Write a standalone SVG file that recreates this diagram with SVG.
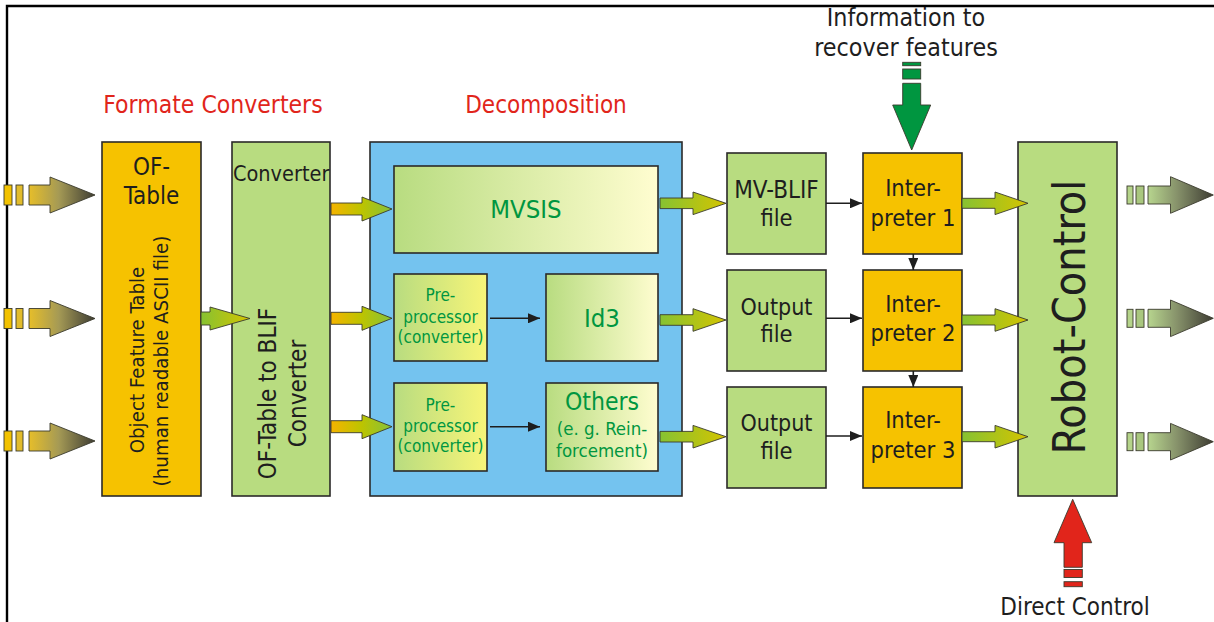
<svg xmlns="http://www.w3.org/2000/svg" width="1214" height="622" viewBox="0 0 1214 622">
  <style>
    text { font-family: "DejaVu Sans Condensed", "DejaVu Sans", sans-serif; }
    .box { stroke: #2b2a29; stroke-width: 1.6; }
    .orange { fill: #F6C200; }
    .green { fill: #B8DC80; }
    .blue { fill: #74C3EF; }
    .gtxt { fill: #009640; }
    .rtxt { fill: #E1251B; }
    .ktxt { fill: #1e1e1e; }
    .ctr { text-anchor: middle; }
    .barrow { stroke: #3a3a2c; stroke-width: 0.9; }
    .link { stroke: #1e1e1e; stroke-width: 1.6; fill: none; marker-end: url(#tip); }
  </style>
  <defs>
    <linearGradient id="gInput" x1="0" y1="0" x2="1" y2="0">
      <stop offset="0" stop-color="#E6BE2A"/>
      <stop offset="0.45" stop-color="#A59A55"/>
      <stop offset="1" stop-color="#3E3D33"/>
    </linearGradient>
    <linearGradient id="gOutput" x1="0" y1="0" x2="1" y2="0">
      <stop offset="0" stop-color="#B7D58E"/>
      <stop offset="0.45" stop-color="#86916A"/>
      <stop offset="1" stop-color="#3E3D33"/>
    </linearGradient>
    <linearGradient id="gOrangeGreen" x1="0" y1="0" x2="1" y2="0">
      <stop offset="0" stop-color="#F5B400"/>
      <stop offset="0.5" stop-color="#BDC400"/>
      <stop offset="1" stop-color="#86C13A"/>
    </linearGradient>
    <linearGradient id="gGreenYellow" x1="0" y1="0" x2="1" y2="0">
      <stop offset="0" stop-color="#86C232"/>
      <stop offset="1" stop-color="#D4C400"/>
    </linearGradient>
    <linearGradient id="gPale" x1="0" y1="0" x2="1" y2="0">
      <stop offset="0" stop-color="#B8DC80"/>
      <stop offset="1" stop-color="#FFFDD0"/>
    </linearGradient>
    <linearGradient id="gYellow" x1="0" y1="0" x2="1" y2="0">
      <stop offset="0" stop-color="#B8DC80"/>
      <stop offset="1" stop-color="#F8F578"/>
    </linearGradient>
    <marker id="tip" viewBox="0 0 12 10" refX="12" refY="5" markerWidth="12" markerHeight="10" markerUnits="userSpaceOnUse" orient="auto">
      <path d="M0,0 L12,5 L0,10 Z" fill="#1e1e1e"/>
    </marker>
  </defs>

  <!-- frame lines -->
  <path d="M7,622 V6 H1214" fill="none" stroke="#000" stroke-width="2.4"/>

  <!-- section captions -->
  <text x="213" y="113" font-size="24.5" class="ctr rtxt">Formate Converters</text>
  <text x="546" y="113" font-size="24" class="ctr rtxt">Decomposition</text>
  <text x="906" y="26" font-size="24.8" class="ctr ktxt">Information to</text>
  <text x="906" y="56" font-size="24.8" class="ctr ktxt">recover features</text>
  <text x="1075" y="615" font-size="24" class="ctr ktxt">Direct Control</text>

  <!-- nodes -->
  <g id="of-table">
    <rect x="102" y="142" width="99" height="354" class="box orange"/>
    <text x="151.5" y="175" font-size="24" class="ctr ktxt">OF-</text>
    <text x="151.5" y="204" font-size="24" class="ctr ktxt">Table</text>
    <text transform="translate(144,360) rotate(-90)" font-size="20.3" class="ctr ktxt">Object Feature Table</text>
    <text transform="translate(168,361) rotate(-90)" font-size="20.3" class="ctr ktxt">(human readable ASCII file)</text>
  </g>

  <g id="blif-converter">
    <rect x="232" y="142" width="98" height="354" class="box green"/>
    <text x="233" y="181" font-size="21.5" class="ktxt">Converter</text>
    <text transform="translate(276,393.5) rotate(-90)" font-size="24" class="ctr ktxt">OF-Table to BLIF</text>
    <text transform="translate(306,393.5) rotate(-90)" font-size="24" class="ctr ktxt">Converter</text>
  </g>

  <g id="decomposition">
    <rect x="370" y="142" width="312" height="354" class="box blue"/>
  </g>

  <g id="mvsis">
    <rect x="394" y="166" width="264" height="87" class="box" fill="url(#gPale)"/>
    <text x="526" y="218" font-size="25.5" class="ctr gtxt">MVSIS</text>
  </g>

  <g id="preprocessor-1">
    <rect x="394" y="274" width="93" height="87" class="box" fill="url(#gYellow)"/>
    <text x="440.5" y="301" font-size="17" class="ctr gtxt">Pre-</text>
    <text x="440.5" y="323" font-size="17" class="ctr gtxt">processor</text>
    <text x="440.5" y="343" font-size="17" class="ctr gtxt">(converter)</text>
  </g>

  <g id="id3">
    <rect x="546" y="274" width="112" height="87" class="box" fill="url(#gPale)"/>
    <text x="602" y="327" font-size="25.5" class="ctr gtxt">Id3</text>
  </g>

  <g id="preprocessor-2">
    <rect x="394" y="383" width="93" height="88" class="box" fill="url(#gYellow)"/>
    <text x="440.5" y="411" font-size="17" class="ctr gtxt">Pre-</text>
    <text x="440.5" y="432" font-size="17" class="ctr gtxt">processor</text>
    <text x="440.5" y="452" font-size="17" class="ctr gtxt">(converter)</text>
  </g>

  <g id="others">
    <rect x="546" y="383" width="112" height="88" class="box" fill="url(#gPale)"/>
    <text x="602" y="410" font-size="24.5" class="ctr gtxt">Others</text>
    <text x="602" y="435" font-size="18.5" class="ctr gtxt">(e. g. Rein-</text>
    <text x="602" y="457" font-size="18.5" class="ctr gtxt">forcement)</text>
  </g>

  <g id="mv-blif-file">
    <rect x="727" y="153" width="99" height="101" class="box green"/>
    <text x="776.5" y="198" font-size="24" class="ctr ktxt">MV-BLIF</text>
    <text x="776.5" y="226" font-size="23.5" class="ctr ktxt">file</text>
  </g>

  <g id="output-file-1">
    <rect x="727" y="270" width="99" height="101" class="box green"/>
    <text x="776.5" y="315" font-size="23" class="ctr ktxt">Output</text>
    <text x="776.5" y="342" font-size="23.5" class="ctr ktxt">file</text>
  </g>

  <g id="output-file-2">
    <rect x="727" y="387" width="99" height="101" class="box green"/>
    <text x="776.5" y="431" font-size="23" class="ctr ktxt">Output</text>
    <text x="776.5" y="459" font-size="23.5" class="ctr ktxt">file</text>
  </g>

  <g id="interpreter-1">
    <rect x="863" y="153" width="99" height="101" class="box orange"/>
    <text x="913" y="196" font-size="23.5" class="ctr ktxt">Inter-</text>
    <text x="913" y="226" font-size="23.5" class="ctr ktxt">preter 1</text>
  </g>

  <g id="interpreter-2">
    <rect x="863" y="270" width="99" height="101" class="box orange"/>
    <text x="913" y="312" font-size="23.5" class="ctr ktxt">Inter-</text>
    <text x="913" y="341" font-size="23.5" class="ctr ktxt">preter 2</text>
  </g>

  <g id="interpreter-3">
    <rect x="863" y="387" width="99" height="101" class="box orange"/>
    <text x="913" y="428" font-size="23.5" class="ctr ktxt">Inter-</text>
    <text x="913" y="458" font-size="23.5" class="ctr ktxt">preter 3</text>
  </g>

  <g id="robot-control">
    <rect x="1018" y="142" width="99" height="354" class="box green"/>
    <text transform="translate(1085,317) rotate(-90)" font-size="44.5" class="ctr ktxt">Robot-Control</text>
  </g>

  <!-- connectors -->
  <g id="connectors">
    <!-- incoming feature streams -->
    <g>
      <rect x="4" y="185" width="8" height="20" fill="#F2C200" class="barrow"/>
      <rect x="16" y="185" width="7" height="20" fill="#E2BC2C" class="barrow"/>
      <path d="M29,185 H50 V177 L95,195 L50,213 V205 H29 Z" fill="url(#gInput)" class="barrow"/>
      <rect x="4" y="308.5" width="8" height="20" fill="#F2C200" class="barrow"/>
      <rect x="16" y="308.5" width="7" height="20" fill="#E2BC2C" class="barrow"/>
      <path d="M29,308.5 H50 V300.5 L95,318.5 L50,336.5 V328.5 H29 Z" fill="url(#gInput)" class="barrow"/>
      <rect x="4" y="431" width="8" height="20" fill="#F2C200" class="barrow"/>
      <rect x="16" y="431" width="7" height="20" fill="#E2BC2C" class="barrow"/>
      <path d="M29,431 H50 V423 L95,441 L50,459 V451 H29 Z" fill="url(#gInput)" class="barrow"/>
    </g>

    <!-- OF-Table to converter -->
    <path d="M201,312 H210 V307 L250,318.5 L210,330 V325 H201 Z" fill="url(#gGreenYellow)" class="barrow"/>

    <!-- converter to decomposition -->
    <path d="M331,203 H362 V197 L392,209 L362,221 V215 H331 Z" fill="url(#gOrangeGreen)" class="barrow"/>
    <path d="M331,312.3 H362 V306.3 L392,318.3 L362,330.3 V324.3 H331 Z" fill="url(#gOrangeGreen)" class="barrow"/>
    <path d="M331,420.7 H362 V414.7 L392,426.7 L362,438.7 V432.7 H331 Z" fill="url(#gOrangeGreen)" class="barrow"/>

    <!-- preprocessors to learners -->
    <line x1="490" y1="318.3" x2="540" y2="318.3" class="link"/>
    <line x1="490" y1="426.7" x2="540" y2="426.7" class="link"/>

    <!-- decomposition to files -->
    <path d="M660,198 H693 V192 L726,203.3 L693,214.6 V208.6 H660 Z" fill="url(#gGreenYellow)" class="barrow"/>
    <path d="M660,314.7 H693 V308.7 L726,320 L693,331.3 V325.3 H660 Z" fill="url(#gGreenYellow)" class="barrow"/>
    <path d="M660,431.4 H693 V425.4 L726,436.7 L693,448 V442 H660 Z" fill="url(#gGreenYellow)" class="barrow"/>

    <!-- files to interpreters -->
    <line x1="826" y1="203.3" x2="862" y2="203.3" class="link"/>
    <line x1="826" y1="318.3" x2="862" y2="318.3" class="link"/>
    <line x1="826" y1="436" x2="862" y2="436" class="link"/>

    <!-- interpreter chain -->
    <line x1="913.3" y1="254" x2="913.3" y2="270" class="link"/>
    <line x1="913.3" y1="371" x2="913.3" y2="387" class="link"/>

    <!-- interpreters to robot control -->
    <path d="M962,198.3 H995 V192 L1028,203.3 L995,214.6 V208.3 H962 Z" fill="url(#gGreenYellow)" class="barrow"/>
    <path d="M962,315 H995 V308.7 L1028,320 L995,331.3 V325 H962 Z" fill="url(#gGreenYellow)" class="barrow"/>
    <path d="M962,431.7 H995 V425.4 L1028,436.7 L995,448 V441.7 H962 Z" fill="url(#gGreenYellow)" class="barrow"/>

    <!-- outgoing commands -->
    <g>
      <rect x="1127" y="186" width="6" height="18" fill="#B5D48A" class="barrow"/>
      <rect x="1136" y="186" width="8" height="18" fill="#A9C77F" class="barrow"/>
      <path d="M1148,186 H1170.5 V176.7 L1213.3,195 L1170.5,213.3 V204 H1148 Z" fill="url(#gOutput)" class="barrow"/>
      <rect x="1127" y="309.3" width="6" height="18" fill="#B5D48A" class="barrow"/>
      <rect x="1136" y="309.3" width="8" height="18" fill="#A9C77F" class="barrow"/>
      <path d="M1148,309.3 H1170.5 V300 L1213.3,318.3 L1170.5,336.6 V327.3 H1148 Z" fill="url(#gOutput)" class="barrow"/>
      <rect x="1127" y="432.7" width="6" height="18" fill="#B5D48A" class="barrow"/>
      <rect x="1136" y="432.7" width="8" height="18" fill="#A9C77F" class="barrow"/>
      <path d="M1148,432.7 H1170.5 V423.4 L1213.3,441.7 L1170.5,460 V450.7 H1148 Z" fill="url(#gOutput)" class="barrow"/>
    </g>

    <!-- recovery information into interpreter 1 -->
    <g fill="#009640" class="barrow">
      <rect x="902.7" y="62.3" width="18" height="3.4"/>
      <rect x="902.7" y="69" width="18" height="10"/>
      <path d="M902.7,83.3 H920.7 V105 H930.7 L911.7,150 L892.7,105 H902.7 Z"/>
    </g>

    <!-- direct control into robot control -->
    <g fill="#E1251B" class="barrow">
      <path d="M1064,567.3 V542.7 H1054 L1072.7,499.3 L1091.7,542.7 H1082.3 V567.3 Z"/>
      <rect x="1064" y="569.5" width="18.3" height="8"/>
      <rect x="1064" y="581.7" width="18.3" height="5"/>
    </g>
  </g>
</svg>
